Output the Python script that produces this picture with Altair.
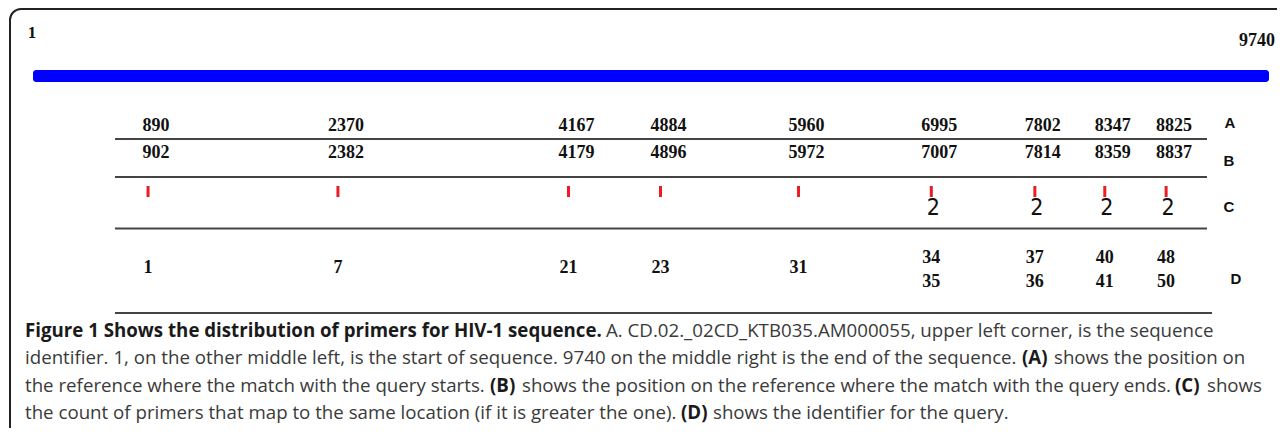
import altair as alt
import pandas as pd

# ---------------- data ----------------
seq_start = 1
seq_end = 9740
primer_start = [890, 2370, 4167, 4884, 5960, 6995, 7802, 8347, 8825]   # row A
primer_end = [902, 2382, 4179, 4896, 5972, 7007, 7814, 8359, 8837]     # row B
primer_count = [1, 1, 1, 1, 1, 2, 2, 2, 2]                              # row C
query_top = ["1", "7", "21", "23", "31", "34", "37", "40", "48"]        # row D
query_bottom = ["", "", "", "", "", "35", "36", "41", "50"]
row_letters = ["A", "B", "C", "D"]

caption_lines = [
    [("Figure 1 Shows the distribution of primers for HIV-1 sequence.", True),
     ("A. CD.02._02CD_KTB035.AM000055, upper left corner, is the sequence", False)],
    [("identifier. 1, on the other middle left, is the start of sequence. 9740 on the middle right is the end of the sequence.", False),
     ("(A)", True), ("shows the position on", False)],
    [("the reference where the match with the query starts.", False), ("(B)", True),
     ("shows the position on the reference where the match with the query ends.", False),
     ("(C)", True), ("shows", False)],
    [("the count of primers that map to the same location (if it is greater the one).", False),
     ("(D)", True), ("shows the identifier for the query.", False)],
]

# ---------------- layout (pixels) ----------------
W, H = 1269, 420
seg_x = [[17, 598], [17, 1014, 1046], [17, 482, 514, 1167, 1199], [17, 673, 705]]
line_y = [323, 350, 378, 405]
letter_pos = [(1222, 115), (1221, 153), (1221, 199), (1228, 271)]

SERIF = "Liberation Serif"
CAP_FONT = "Open Sans"
CAP_SIZE = 18.7

primers = pd.DataFrame({
    "start": primer_start, "end": primer_end, "count": primer_count,
    "dtop": query_top, "dbot": query_bottom,
})
primers["double"] = primers["dbot"] != ""

xs_primer = alt.Scale(domain=[seq_start, seq_end], range=[26, 1275.5])
xs_seq = alt.Scale(domain=[seq_start, seq_end], range=[25, 1261])
X = alt.X("start:Q", scale=xs_primer, axis=None)

one = pd.DataFrame({"k": [0]})

layers = []

# outer framed box
layers.append(alt.Chart(one).mark_rect(
    fill="white", fillOpacity=0, stroke="#222222", strokeWidth=2, cornerRadius=11
).encode(x=alt.value(2), x2=alt.value(1500), y=alt.value(1), y2=alt.value(800)))

# sequence bar
seq = pd.DataFrame({"s": [seq_start], "e": [seq_end], "ls": [str(seq_start)], "le": [str(seq_end)]})
layers.append(alt.Chart(seq).mark_rect(color="#0000ff", cornerRadius=3).encode(
    x=alt.X("s:Q", scale=xs_seq, axis=None), x2="e:Q",
    y=alt.value(62), y2=alt.value(74)))
layers.append(alt.Chart(seq).mark_text(font=SERIF, fontWeight="bold", fontSize=17,
                                       color="#111111", align="center", baseline="middle").encode(
    text="ls:N", x=alt.value(24), y=alt.value(25)))
layers.append(alt.Chart(seq).mark_text(font=SERIF, fontWeight="bold", fontSize=18,
                                       color="#111111", align="right", baseline="middle").encode(
    text="le:N", x=alt.value(1267), y=alt.value(33)))

# separator rules
for y, x1, x2 in [(131, 107, 1199), (169, 107, 1199), (220.5, 107, 1199), (305, 107, 1204)]:
    layers.append(alt.Chart(one).mark_rule(color="#444444", strokeWidth=2).encode(
        x=alt.value(x1), x2=alt.value(x2), y=alt.value(y)))

# row A / B labels
layers.append(alt.Chart(primers).mark_text(font=SERIF, fontWeight="bold", fontSize=18, dx=8,
                                           color="#111111", baseline="middle").encode(
    x=X, y=alt.value(118), text="start:N"))
layers.append(alt.Chart(primers).mark_text(font=SERIF, fontWeight="bold", fontSize=18, dx=8,
                                           color="#111111", baseline="middle").encode(
    x=X, y=alt.value(145), text="end:N"))

# row C: red ticks and counts > 1
layers.append(alt.Chart(primers).mark_rule(color="#ed1c24", strokeWidth=3).encode(
    x=X, y=alt.value(178), y2=alt.value(189)))
layers.append(alt.Chart(primers).transform_filter("datum.count > 1").mark_text(
    font="Liberation Sans Narrow, DejaVu Sans Condensed, sans-serif", fontSize=23, dx=2,
    color="#111111", baseline="middle").encode(x=X, y=alt.value(200), text="count:N"))

# row D: query identifiers
layers.append(alt.Chart(primers).transform_filter("!datum.double").mark_text(
    font=SERIF, fontWeight="bold", fontSize=18, color="#111111", baseline="middle").encode(
    x=X, y=alt.value(260), text="dtop:N"))
layers.append(alt.Chart(primers).transform_filter("datum.double").mark_text(
    font=SERIF, fontWeight="bold", fontSize=18, color="#111111", baseline="middle").encode(
    x=X, y=alt.value(250), text="dtop:N"))
layers.append(alt.Chart(primers).transform_filter("datum.double").mark_text(
    font=SERIF, fontWeight="bold", fontSize=18, color="#111111", baseline="middle").encode(
    x=X, y=alt.value(274), text="dbot:N"))

# row letters
for letter, (lx, ly) in zip(row_letters, letter_pos):
    layers.append(alt.Chart(pd.DataFrame({"t": [letter]})).mark_text(
        font="Liberation Sans", fontWeight="bold", fontSize=15, color="#111111",
        align="center", baseline="middle").encode(text="t:N", x=alt.value(lx), y=alt.value(ly)))

# caption
for segs, xs, y in zip(caption_lines, seg_x, line_y):
    for (txt, bold), x in zip(segs, xs):
        layers.append(alt.Chart(pd.DataFrame({"t": [txt]})).mark_text(
            font=CAP_FONT, fontSize=CAP_SIZE, fontWeight="bold" if bold else "normal",
            color="#1a1a1a" if bold else "#3a3a3a", align="left", baseline="middle").encode(
            text="t:N", x=alt.value(x), y=alt.value(y)))

chart = alt.layer(*layers).resolve_scale(x="independent").properties(
    width=W, height=H, autosize=alt.AutoSizeParams(type="none"), padding=0
).configure_view(strokeWidth=0)

chart.save("out.html", embed_options={"renderer": "svg", "actions": False})
